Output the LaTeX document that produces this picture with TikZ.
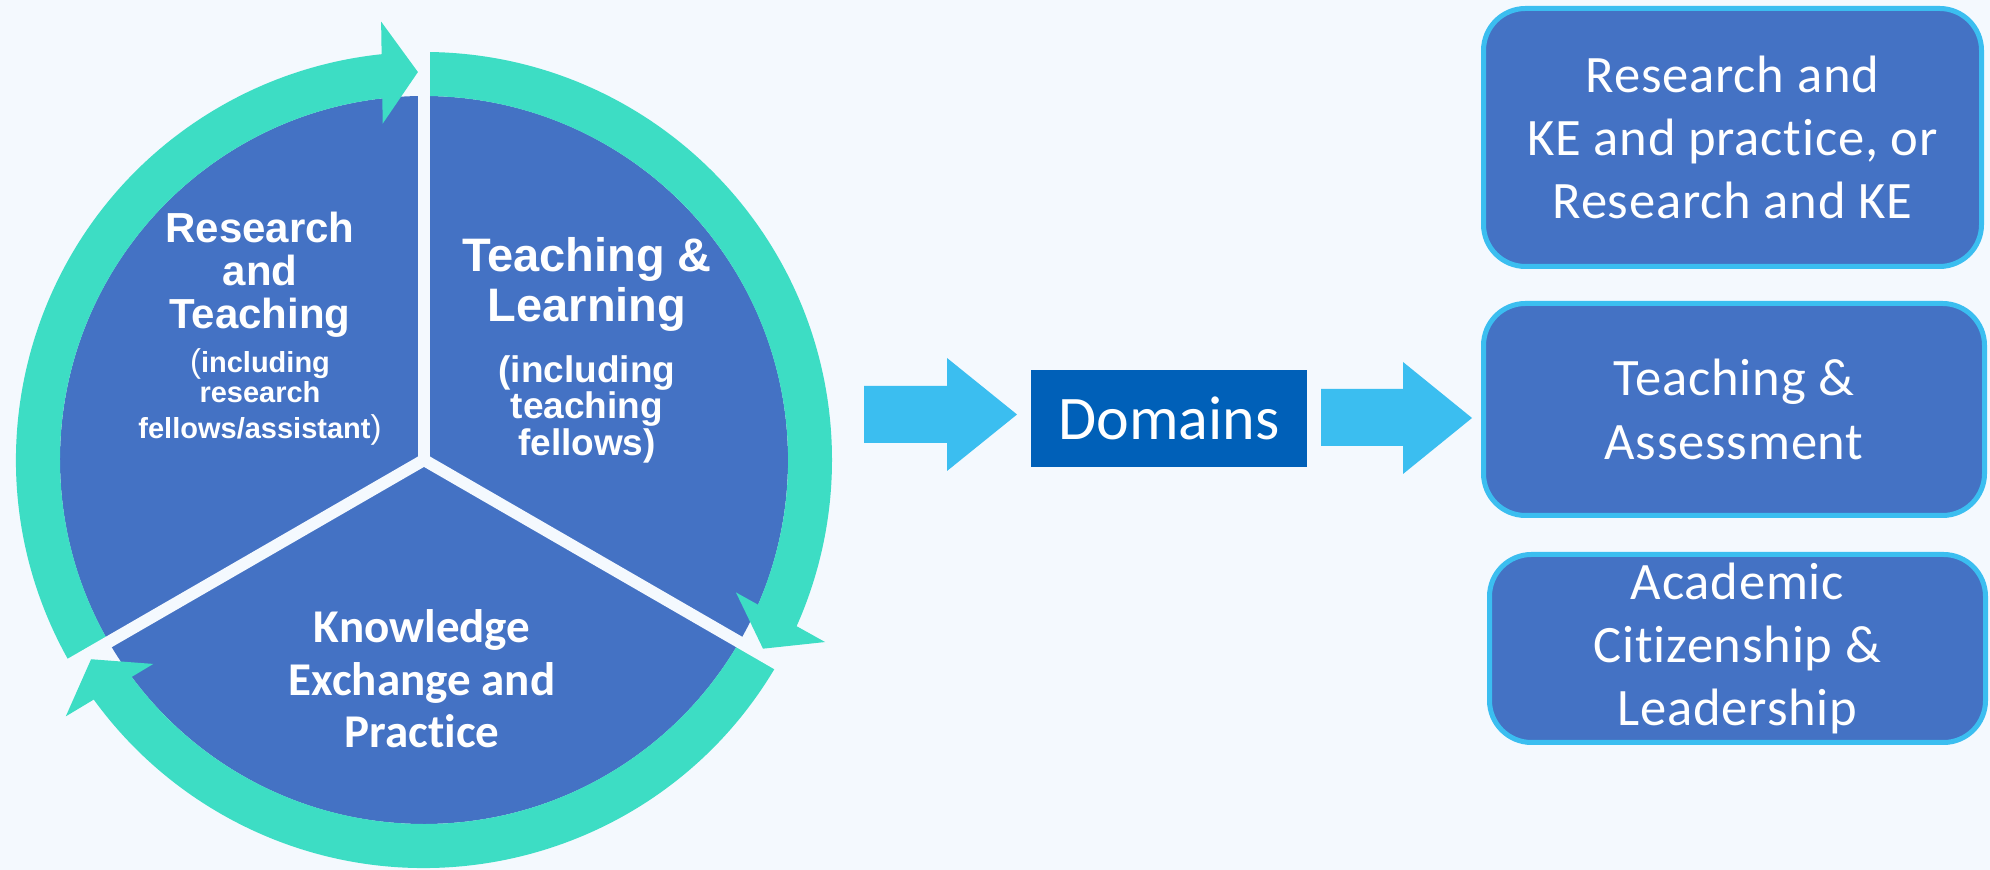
\documentclass[tikz,border=0pt]{standalone}
\usepackage{fontspec}
\setmainfont{Carlito}[Ligatures=NoCommon]
\newfontfamily\arialsans{Liberation Sans}
\usetikzlibrary{calc}

\definecolor{bgc}{HTML}{F4F9FE}
\definecolor{pieblue}{HTML}{4472C4}
\definecolor{ringteal}{HTML}{3DDDC4}
\definecolor{skyblue}{HTML}{3BBEF0}
\definecolor{domainblue}{HTML}{0060B8}

% thin, slightly larger parenthesis inside bold text
\newcommand\thinparen[1]{{\mdseries\fontsize{16.5}{16.5}\selectfont #1}}

\begin{document}
\begin{tikzpicture}[x=0.5pt,y=0.5pt,
  ptxt/.style={text=white, inner sep=0pt, anchor=base},
  rtitle/.style={ptxt, font=\arialsans\bfseries\fontsize{21}{21}\selectfont},
  rsub/.style={ptxt, font=\arialsans\bfseries\fontsize{14.5}{14.5}\selectfont},
  ttitle/.style={ptxt, font=\arialsans\bfseries\fontsize{23.5}{23.5}\selectfont},
  tsub/.style={ptxt, font=\arialsans\bfseries\fontsize{18.5}{18.5}\selectfont},
  ktitle/.style={ptxt, font=\bfseries\fontsize{23.5}{23.5}\selectfont},
  blockarrow/.style={fill=skyblue},
  domainbox/.style={draw=skyblue, line width=2.5pt, fill=pieblue,
    rounded corners=21pt, text=white, align=center, inner sep=0pt,
    font=\addfontfeatures{LetterSpace=1.5}\fontsize{26.3}{31.7}\selectfont},
]
% canvas
\fill[bgc] (0,0) rectangle (1990,870);
\useasboundingbox (0,0) rectangle (1990,870);

% ---- cycle: pie with three sectors and a ring of three arrows ----
\coordinate (C) at (424,410);
\fill[pieblue] (C) circle[radius=364];

% ring shafts (clockwise), each ending inside its arrow head
\foreach \s/\e in {210/94.9, 90/-25.1, -30/-145.1}
  \fill[ringteal] ($(C)+(\s:408)$) arc[start angle=\s, end angle=\e, radius=408]
    -- ($(C)+(\e:364)$) arc[start angle=\e, end angle=\s, radius=364] -- cycle;

% separating gaps
\foreach \a in {90,-30,210}
  \draw[bgc, line width=6pt] (C) -- ++(\a:420);
\fill[bgc] (C) circle[radius=7];

% arrow heads
\foreach \t in {90.9,-29.1,210.9}
  \fill[ringteal, shift={(C)}, rotate=\t] (388,0) -- (439,36) -- (337,36) -- cycle;

% sector labels
\node[rtitle] (rt1) at (260,627) {Research};
\node[rtitle] (rt2) at (260,584) {and};
\node[rtitle] (rt3) at (260,541) {Teaching};
\node[rsub] (rs1) at (260,497) {\thinparen{(}including};
\node[rsub] (rs2) at (260,467) {research};
\node[rsub] (rs3) at (260,431) {fellows/assistant\thinparen{)}};

\node[ttitle] (tt1) at (587,598) {Teaching \&};
\node[ttitle] (tt2) at (587,548) {Learning};
\node[tsub] (ts1) at (587,487) {(including};
\node[tsub] (ts2) at (587,451) {teaching};
\node[tsub] (ts3) at (587,414) {fellows)};

\node[ktitle] (kt1) at (422,227) {Knowledge};
\node[ktitle] (kt2) at (422,174) {Exchange and};
\node[ktitle] (kt3) at (422,122) {Practice};

% ---- centre box ----
\node[fill=domainblue, text=white, minimum width=138pt, minimum height=48.5pt,
  inner sep=0pt, font=\fontsize{31}{31}\selectfont] (dom) at (1169,451.5) {Domains};

% block arrows
\fill[blockarrow] (864,484) -- (947,484) -- (947,512) -- (1017,455.5)
  -- (947,399) -- (947,427) -- (864,427) -- cycle;
\fill[blockarrow] (1321,481) -- (1403,481) -- (1403,508) -- (1472,452)
  -- (1403,396) -- (1403,424) -- (1321,424) -- cycle;

% ---- domain boxes ----
\node[domainbox, minimum width=249pt, minimum height=129pt] (d1) at (1732.5,732.5)
  {Research and\\KE and practice, or\\Research and KE};
\node[domainbox, minimum width=250.5pt, minimum height=106pt] (d2) at (1734,460.5)
  {Teaching \&\\Assessment};
\node[domainbox, minimum width=248pt, minimum height=94pt] (d3) at (1737.5,221.5)
  {Academic\\Citizenship \&\\Leadership};
\end{tikzpicture}
\end{document}
